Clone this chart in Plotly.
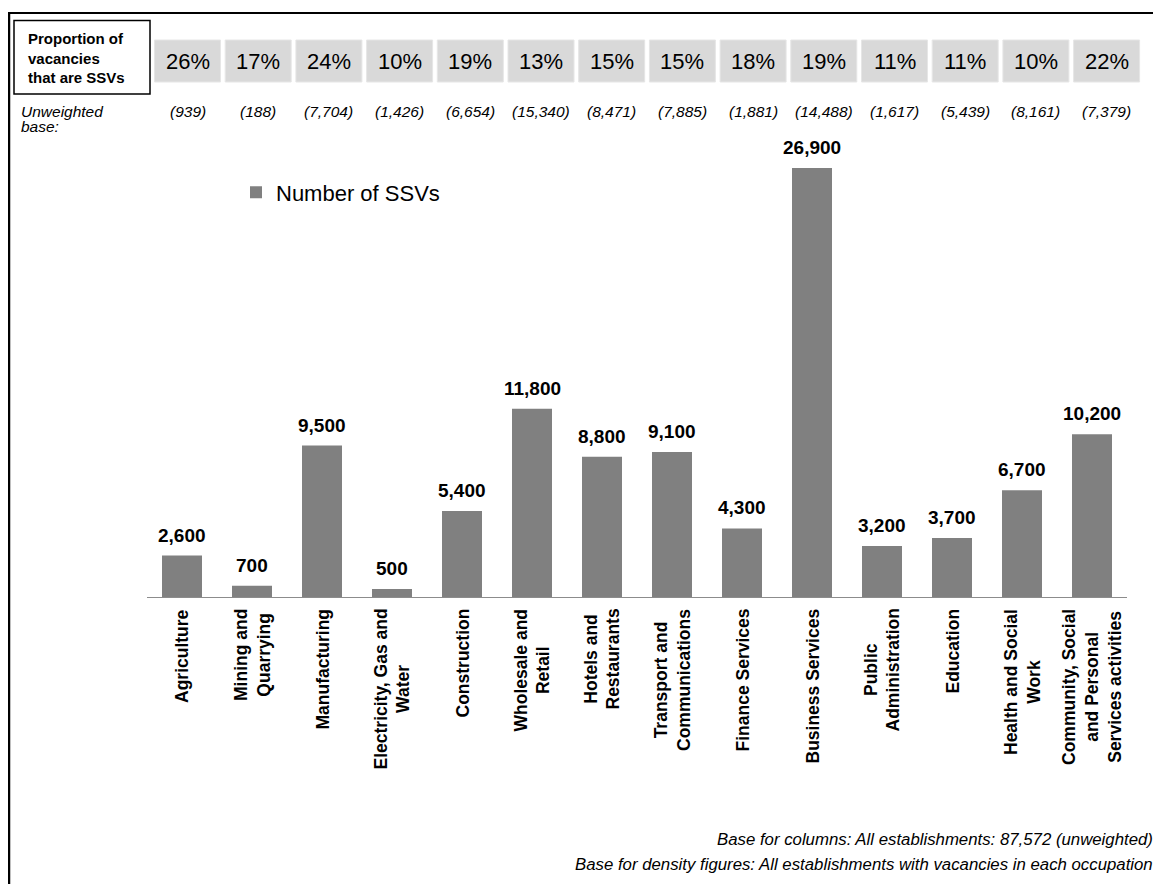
import plotly.graph_objects as go

# ---------------- data ----------------
categories = [
    "Agriculture", "Mining and Quarrying", "Manufacturing", "Electricity, Gas and Water",
    "Construction", "Wholesale and Retail", "Hotels and Restaurants",
    "Transport and Communications", "Finance Services", "Business Services",
    "Public Administration", "Education", "Health and Social Work",
    "Community, Social and Personal Services activities",
]
tick_labels = [
    "Agriculture", "Mining and<br>Quarrying", "Manufacturing", "Electricity, Gas and<br>Water",
    "Construction", "Wholesale and<br>Retail", "Hotels and<br>Restaurants",
    "Transport and<br>Communications", "Finance Services", "Business Services",
    "Public<br>Administration", "Education", "Health and Social<br>Work",
    "Community, Social<br>and Personal<br>Services activities",
]
ssv_numbers = [2600, 700, 9500, 500, 5400, 11800, 8800, 9100, 4300, 26900, 3200, 3700, 6700, 10200]
ssv_share_pct = [26, 17, 24, 10, 19, 13, 15, 15, 18, 19, 11, 11, 10, 22]
unweighted_base = [939, 188, 7704, 1426, 6654, 15340, 8471, 7885, 1881, 14488, 1617, 5439, 8161, 7379]

series_name = "Number of SSVs"
row_title = "Proportion of<br>vacancies<br>that are SSVs"
footnotes = [
    "Base for columns: All establishments: 87,572 (unweighted)",
    "Base for density figures: All establishments with vacancies in each occupation",
]

# ---------------- geometry helpers ----------------
# the page body has an 8px margin, so the figure is drawn 8px in from the page corner
OFF = 8
W, H = 1161 - OFF, 884 - OFF
ML, MR, MT, MB = 147 - OFF, 34, 150 - OFF, 287
PW = W - ML - MR
PH = H - MT - MB
YMAX = 28029


def xp(px):  # page pixel -> paper x
    return (px - OFF - ML) / PW


def yp(py):  # page pixel -> paper y
    return (H - MB - (py - OFF)) / PH


FONT = "Arial, 'Liberation Sans', sans-serif"
BAR_COLOR = "#808080"

fig = go.Figure()
fig.add_trace(go.Bar(
    x=categories, y=ssv_numbers, name=series_name,
    marker=dict(color=BAR_COLOR, line=dict(width=0)),
    showlegend=True,
))

annotations = []
shapes = []

# data labels
for c, v in zip(categories, ssv_numbers):
    annotations.append(dict(
        x=c, y=v, xref="x", yref="y", text=f"<b>{v:,}</b>", showarrow=False,
        yanchor="bottom", xanchor="center", yshift=8,
        font=dict(family=FONT, size=19, color="#000000"),
    ))

# rotated category labels
for c, lab in zip(categories, tick_labels):
    annotations.append(dict(
        x=c, y=yp(607), xref="x", yref="paper", text=f"<b>{lab}</b>", showarrow=False,
        textangle=-90, yanchor="top", xanchor="center", align="center",
        font=dict(family=FONT, size=17.5, color="#000000"),
    ))

# proportion row (boxes + text) and unweighted base row
for i, (pct, base) in enumerate(zip(ssv_share_pct, unweighted_base)):
    cx = 187.5 + 70.7 * i
    shapes.append(dict(
        type="rect", xref="paper", yref="paper",
        x0=xp(cx - 33), x1=xp(cx + 33), y0=yp(82), y1=yp(40),
        fillcolor="#d9d9d9", line=dict(color="#e6e6e6", width=1), layer="below",
    ))
    annotations.append(dict(
        x=xp(cx), y=yp(61.5), xref="paper", yref="paper", text=f"{pct}%", showarrow=False,
        xanchor="center", yanchor="middle",
        font=dict(family=FONT, size=22, color="#000000"),
    ))
    annotations.append(dict(
        x=xp(cx), y=yp(111.5), xref="paper", yref="paper", text=f"<i>({base:,})</i>",
        showarrow=False, xanchor="center", yanchor="middle",
        font=dict(family=FONT, size=15.5, color="#000000"),
    ))

# row title box
shapes.append(dict(
    type="rect", xref="paper", yref="paper",
    x0=xp(14), x1=xp(150), y0=yp(94), y1=yp(20.5),
    line=dict(color="#000000", width=1.5), fillcolor="rgba(0,0,0,0)",
))
annotations.append(dict(
    x=xp(26), y=yp(57.5), xref="paper", yref="paper", text=f"<b>{row_title}</b>",
    showarrow=False, xanchor="left", yanchor="middle", align="left",
    font=dict(family=FONT, size=15, color="#000000"),
))

# unweighted base label
annotations.append(dict(
    x=xp(19), y=yp(111), xref="paper", yref="paper", text="<i>Unweighted</i>",
    showarrow=False, xanchor="left", yanchor="middle",
    font=dict(family=FONT, size=15.5, color="#000000"),
))
annotations.append(dict(
    x=xp(19), y=yp(127), xref="paper", yref="paper", text="<i>base:</i>",
    showarrow=False, xanchor="left", yanchor="middle",
    font=dict(family=FONT, size=15.5, color="#000000"),
))

# footnotes
for txt, yc in zip(footnotes, [839, 864]):
    annotations.append(dict(
        x=xp(1155), y=yp(yc), xref="paper", yref="paper", text=f"<i>{txt}</i>",
        showarrow=False, xanchor="right", yanchor="middle",
        font=dict(family=FONT, size=16.8, color="#000000"),
    ))

# outer frame (top and left edges visible)
shapes.append(dict(type="line", xref="paper", yref="paper",
                   x0=xp(7.5), x1=xp(1165), y0=yp(13), y1=yp(13),
                   line=dict(color="#000000", width=2.2)))
shapes.append(dict(type="line", xref="paper", yref="paper",
                   x0=xp(9), x1=xp(9), y0=yp(12), y1=yp(890),
                   line=dict(color="#000000", width=2.5)))

fig.update_layout(
    width=W, height=H, autosize=False,
    margin=dict(l=ML, r=MR, t=MT, b=MB, pad=0),
    paper_bgcolor="#ffffff", plot_bgcolor="#ffffff",
    bargap=0.4286,
    font=dict(family=FONT, color="#000000"),
    showlegend=True,
    legend=dict(
        x=xp(236), y=yp(192.5), xanchor="left", yanchor="middle",
        font=dict(family=FONT, size=22, color="#000000"),
        bgcolor="rgba(0,0,0,0)", borderwidth=0,
    ),
    xaxis=dict(
        showline=True, linecolor="#8c8c8c", linewidth=1.2,
        showticklabels=False, ticks="", showgrid=False, zeroline=False,
        range=[-0.5, len(categories) - 0.5], fixedrange=True,
    ),
    yaxis=dict(
        range=[0, YMAX], visible=False, showgrid=False, zeroline=False, fixedrange=True,
    ),
    annotations=annotations,
    shapes=shapes,
)

fig.write_html("out.html")
